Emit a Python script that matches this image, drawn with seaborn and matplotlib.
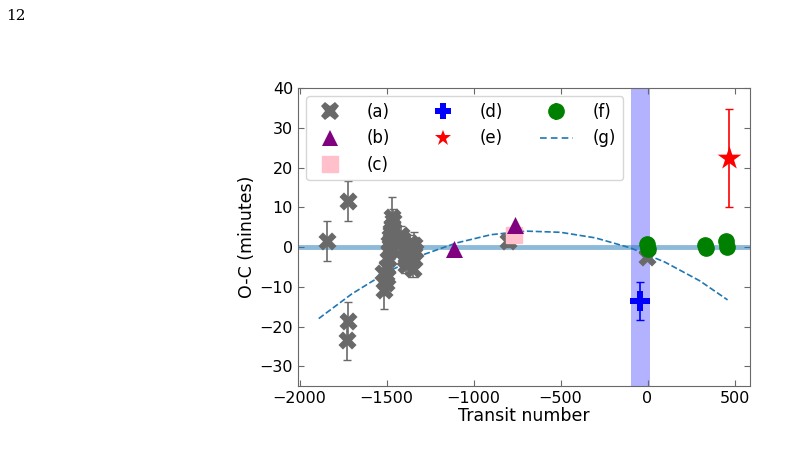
import numpy as np
import matplotlib
matplotlib.use("Agg")
import matplotlib.pyplot as plt
from matplotlib.lines import Line2D
import seaborn as sns

# (a) ground-based transits
a_x = [-1840, -1720, -1722, -1725,
       -1520, -1512, -1506, -1500, -1496, -1492, -1488, -1484, -1480, -1476,
       -1472, -1468, -1464, -1470, -1475, -1455,
       -1420, -1410, -1400, -1395, -1388, -1380, -1372, -1365, -1358, -1350,
       -1345, -1340, -1335,
       -800, -5]
a_y = [1.5, 11.5, -18.5, -23.5,
       -6.5, -10.8, -9.0, -7.5, -5.0, -3.0, -1.0, 1.0, 2.5, 0.0,
       3.5, 5.0, 6.5, 7.5, 4.0, 2.0,
       3.0, 2.0, -1.0, -3.0, -4.5, -2.0, 0.0, 1.0, -2.0, -5.5,
       -3.0, 0.5, -1.0,
       1.5, -2.5]
a_err = [5.0, 5.0, 4.7, 5.0,
         3.0, 4.7, 3.0, 3.0, 3.0, 3.0, 3.0, 3.0, 3.0, 3.0,
         3.0, 3.0, 3.0, 5.0, 3.0, 3.0,
         2.2, 2.0, 2.0, 2.0, 2.0, 2.0, 2.0, 2.0, 2.0, 2.0,
         2.0, 3.3, 2.0,
         1.5, 0.5]

# (b)
b_x = [-1110, -760]
b_y = [-0.5, 5.5]

# (c)
c_x = [-770]
c_y = [3.0]
c_err = [1.0]

# (d)
d_x = [-45]
d_y = [-13.5]
d_err = [4.8]

# (e)
e_x = [466]
e_y = [22.3]
e_err = [12.3]

# (f)
f_x = [-2, 2, 330, 336, 450, 454]
f_y = [0.8, -0.4, 0.5, -0.3, 1.5, 0.0]
f_err = [0.3, 0.3, 0.3, 0.3, 0.3, 0.3]

# (g) model curve
g_x = [-1890, -1700, -1500, -1300, -1100, -900, -700, -500, -300, -100, 100, 300, 460]
g_y = [-18.0, -11.8, -6.4, -2.1, 1.0, 3.1, 4.0, 3.7, 2.3, -0.2, -3.8, -8.5, -13.3]

sns.set_style("ticks")
plt.rcParams["font.family"] = ["DejaVu Sans"]
plt.rcParams["text.color"] = "black"
plt.rcParams["axes.labelcolor"] = "black"
plt.rcParams["xtick.labelcolor"] = "black"
plt.rcParams["ytick.labelcolor"] = "black"

fig = plt.figure(figsize=(7.88, 4.49), dpi=100)
ax = fig.add_axes([0.378, 0.14, 0.574, 0.664])

ax.axvspan(-95, 12, color="blue", alpha=0.3, lw=0, zorder=0)
ax.axhline(0, color="tab:blue", alpha=0.5, lw=3.5, zorder=1)

ax.errorbar(a_x, a_y, yerr=a_err, fmt="none", ecolor="dimgray", capsize=3, lw=1.2, zorder=2)
ax.errorbar(d_x, d_y, yerr=d_err, fmt="none", ecolor="blue", capsize=3, lw=1.2, zorder=2)
ax.errorbar(e_x, e_y, yerr=e_err, fmt="none", ecolor="red", capsize=3, lw=1.2, zorder=2)

sns.scatterplot(x=a_x, y=a_y, marker="X", s=170, color="dimgray", linewidth=0,
                ax=ax, zorder=3, legend=False)
ax.errorbar(c_x, c_y, yerr=c_err, fmt="s", color="pink", ms=11, capsize=3, zorder=3)
sns.scatterplot(x=b_x, y=b_y, marker="^", s=150, color="purple", linewidth=0,
                ax=ax, zorder=4, legend=False)
sns.scatterplot(x=d_x, y=d_y, marker="P", s=220, color="blue", linewidth=0,
                ax=ax, zorder=3, legend=False)
sns.scatterplot(x=e_x, y=e_y, marker="*", s=320, color="red", linewidth=0,
                ax=ax, zorder=3, legend=False)
hf = ax.errorbar(f_x, f_y, yerr=f_err, fmt="o", color="green", ms=11, capsize=3, zorder=4)
sns.lineplot(x=g_x, y=g_y, color="tab:blue", linestyle="--", dashes=(4, 2.5), lw=1.2,
             ax=ax, zorder=2, legend=False)

# legend proxies
hc = ax.errorbar([], [], yerr=[], fmt="s", color="pink", ms=12, capsize=3)
hf2 = ax.errorbar([], [], yerr=[], fmt="o", color="green", ms=11, capsize=3)
handles = [
    Line2D([], [], ls="none", marker="X", ms=13, color="dimgray", mew=0),
    Line2D([], [], ls="none", marker="^", ms=12, color="purple", mew=0),
    hc,
    Line2D([], [], ls="none", marker="P", ms=11, color="blue", mew=0),
    Line2D([], [], ls="none", marker="*", ms=12, color="red", mew=0),
    hf2,
    Line2D([], [], color="tab:blue", ls="--", dashes=(4, 2.5), lw=1.2),
]
labels = ["(a)", "(b)", "(c)", "(d)", "(e)", "(f)", "(g)"]
ax.legend(handles, labels, ncol=3, loc="upper left",
          fontsize=12, columnspacing=2.2, handletextpad=1.2,
          borderaxespad=0.5)

ax.set_xlim(-2010, 590)
ax.set_ylim(-35, 40)
ax.set_xticks([-2000, -1500, -1000, -500, 0, 500])
ax.set_yticks([-30, -20, -10, 0, 10, 20, 30, 40])
ax.tick_params(direction="in", top=True, right=True, labelsize=11.5,
               color="dimgray", length=4)
for sp in ax.spines.values():
    sp.set_color("dimgray")
ax.set_xlabel("Transit number", fontsize=12.5, labelpad=1)
ax.set_ylabel("O-C (minutes)", fontsize=12.5, labelpad=2)

fig.text(0.008, 0.965, "12", family="serif", fontsize=11, va="center")

fig.savefig("out.png", dpi=100)
